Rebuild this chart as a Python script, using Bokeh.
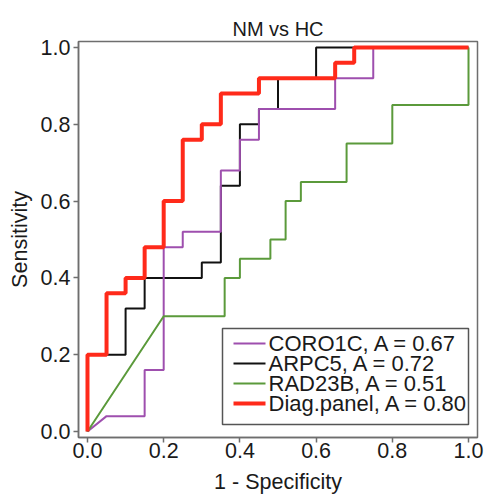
from bokeh.plotting import figure
from bokeh.models import Range1d, FixedTicker
from bokeh.core.properties import value
from bokeh.embed import file_html
from bokeh.resources import INLINE

# ROC curves (1 - specificity, sensitivity)
coro1c_x = [0, 0.05, 0.15, 0.15, 0.2, 0.2, 0.25, 0.25, 0.35, 0.35, 0.4, 0.4, 0.45, 0.45, 0.65, 0.65, 0.75, 0.75, 1.0]
coro1c_y = [0, 0.04, 0.04, 0.16, 0.16, 0.48, 0.48, 0.52, 0.52, 0.68, 0.68, 0.76, 0.76, 0.84, 0.84, 0.92, 0.92, 1.0, 1.0]

arpc5_x = [0, 0, 0.1, 0.1, 0.15, 0.15, 0.3, 0.3, 0.35, 0.35, 0.4, 0.4, 0.45, 0.45, 0.5, 0.5, 0.6, 0.6, 1.0]
arpc5_y = [0, 0.2, 0.2, 0.32, 0.32, 0.4, 0.4, 0.44, 0.44, 0.64, 0.64, 0.8, 0.8, 0.84, 0.84, 0.92, 0.92, 1.0, 1.0]

rad23b_x = [0, 0.2, 0.36, 0.36, 0.4, 0.4, 0.48, 0.48, 0.52, 0.52, 0.56, 0.56, 0.68, 0.68, 0.8, 0.8, 1.0, 1.0]
rad23b_y = [0, 0.3, 0.3, 0.4, 0.4, 0.45, 0.45, 0.5, 0.5, 0.6, 0.6, 0.65, 0.65, 0.75, 0.75, 0.85, 0.85, 1.0]

diag_x = [0, 0, 0.05, 0.05, 0.1, 0.1, 0.15, 0.15, 0.2, 0.2, 0.25, 0.25, 0.3, 0.3, 0.35, 0.35, 0.45, 0.45, 0.65, 0.65, 0.7, 0.7, 1.0]
diag_y = [0, 0.2, 0.2, 0.36, 0.36, 0.4, 0.4, 0.48, 0.48, 0.6, 0.6, 0.76, 0.76, 0.8, 0.8, 0.88, 0.88, 0.92, 0.92, 0.96, 0.96, 1.0, 1.0]

labels = ["CORO1C, A = 0.67", "ARPC5, A = 0.72", "RAD23B, A = 0.51", "Diag.panel, A = 0.80"]
ticks = [0.0, 0.2, 0.4, 0.6, 0.8, 1.0]
tick_labels = {0.0: "0.0", 0.2: "0.2", 0.4: "0.4", 0.6: "0.6", 0.8: "0.8", 1.0: "1.0"}

FONT = "Liberation Sans"
TXT = "#1a1a1a"
AX = "#6e6e6e"
FS = "21.5px"

X0, X1 = -0.0236, 1.0236
Y0, Y1 = -0.0156, 1.0156
FL, FR, FT, FB = 78, 477, 41, 437  # frame edges in pixels


def dx(px):
    return X0 + (px - FL) / (FR - FL) * (X1 - X0)


def dy(py):
    return Y0 + (FB - py) / (FB - FT) * (Y1 - Y0)


p = figure(width=486, height=502, output_backend="svg", toolbar_location=None,
           x_range=Range1d(X0, X1), y_range=Range1d(Y0, Y1),
           min_border_left=FL, min_border_right=486 - FR, min_border_top=FT, min_border_bottom=502 - FB,
           title="NM vs HC")
p.title.align = "center"
p.title.text_font = FONT
p.title.text_font_size = "20px"
p.title.text_font_style = "normal"
p.title.text_color = TXT
p.title.standoff = 4

p.xgrid.visible = False
p.ygrid.visible = False
p.outline_line_color = AX
p.outline_line_width = 1.5
p.background_fill_color = "white"
p.border_fill_color = "white"

for ax in (p.xaxis[0], p.yaxis[0]):
    ax.ticker = FixedTicker(ticks=ticks)
    ax.major_label_overrides = tick_labels
    ax.axis_line_color = AX
    ax.axis_line_width = 1.5
    ax.major_tick_line_color = AX
    ax.major_tick_line_width = 1.5
    ax.major_tick_in = 0
    ax.major_tick_out = 5
    ax.minor_tick_line_color = None
    ax.major_label_text_font = FONT
    ax.major_label_text_font_size = FS
    ax.major_label_text_color = TXT
    ax.axis_label_text_font = FONT
    ax.axis_label_text_font_size = FS
    ax.axis_label_text_font_style = "normal"
    ax.axis_label_text_color = TXT

p.xaxis.axis_label = "1 - Specificity"
p.yaxis.axis_label = "Sensitivity"
p.xaxis.major_label_standoff = 0
p.yaxis.major_label_standoff = 3
p.xaxis.axis_label_standoff = 9
p.yaxis.axis_label_standoff = 6

colors = ["#9e4fae", "#111111", "#5b9a3b", "#ff2a1a"]
widths = [2, 2, 2, 4]

p.line(arpc5_x, arpc5_y, line_color=colors[1], line_width=widths[1])
p.line(coro1c_x, coro1c_y, line_color=colors[0], line_width=widths[0])
p.line(rad23b_x, rad23b_y, line_color=colors[2], line_width=widths[2])
p.line(diag_x, diag_y, line_color=colors[3], line_width=widths[3])

# legend box drawn manually (tight row spacing as in the original)
p.quad(left=[dx(222)], right=[dx(468)], top=[dy(328)], bottom=[dy(424)],
       fill_color="white", line_color="#555555", line_width=1.5)
rows = [dy(343 + 20 * i) for i in range(len(labels))]
p.segment(x0=[dx(233)] * 4, x1=[dx(265)] * 4, y0=rows, y1=rows,
          line_color=colors, line_width=widths)
p.text(x=[dx(268)] * 4, y=rows, text=labels, text_font=value(FONT),
       text_font_size="22px", text_color=TXT, text_baseline="middle", text_align="left")

open("out.html", "w").write(file_html(p, INLINE))
